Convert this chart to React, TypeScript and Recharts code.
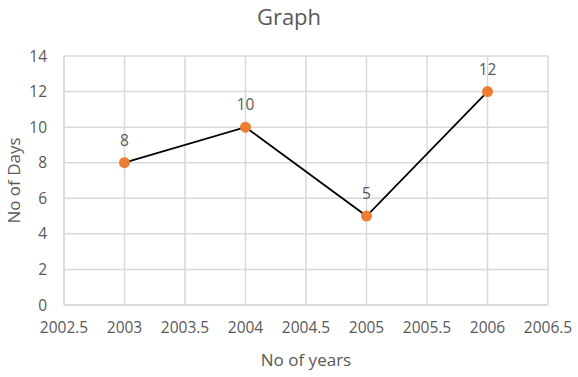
import React from "react";
import { LineChart, Line, XAxis, YAxis, CartesianGrid, LabelList, Label } from "recharts";

const years = [2003, 2004, 2005, 2006];
const days = [8, 10, 5, 12];
const xTicks = [2002.5, 2003, 2003.5, 2004, 2004.5, 2005, 2005.5, 2006, 2006.5];
const yTicks = [0, 2, 4, 6, 8, 10, 12, 14];

const data = years.map((y, i) => ({ year: y, days: days[i] }));

const FONT = "'Open Sans', sans-serif";
const TXT = "#595959";

export default function App() {
  return (
    <div style={{ position: "absolute", left: 0, top: 0, width: 578, height: 377, background: "#fff" }}>
      <div style={{ position: "absolute", left: 0, top: 1, width: 578, textAlign: "center", fontFamily: FONT, fontSize: 22, color: TXT }}>
        Graph
      </div>
      <LineChart width={578} height={377} data={data} margin={{ top: 56, right: 30, bottom: 0, left: 0 }}>
        <CartesianGrid stroke="#d9d9d9" strokeWidth={1.5} />
        <XAxis
          dataKey="year"
          type="number"
          domain={[2002.5, 2006.5]}
          ticks={xTicks}
          interval={0}
          tickLine={false}
          axisLine={{ stroke: "#d9d9d9", strokeWidth: 1.5 }}
          tickSize={0}
          tickMargin={17}
          height={72}
          tick={{ fill: TXT, fontSize: 15.5, fontFamily: FONT }}
        >
          <Label value="No of years" position="insideBottom" offset={11} fill={TXT} fontSize={17} fontFamily={FONT} />
        </XAxis>
        <YAxis
          type="number"
          domain={[0, 14]}
          ticks={yTicks}
          interval={0}
          tickLine={false}
          axisLine={{ stroke: "#d9d9d9", strokeWidth: 1.5 }}
          tickSize={0}
          tickMargin={17}
          width={64}
          tick={{ fill: TXT, fontSize: 15.5, fontFamily: FONT }}
        >
          <Label value="No of Days" angle={-90} position="insideLeft" offset={14} fill={TXT} fontSize={17} fontFamily={FONT} style={{ textAnchor: "middle" }} />
        </YAxis>
        <Line
          type="linear"
          dataKey="days"
          stroke="#000"
          strokeWidth={1.75}
          isAnimationActive={false}
          dot={{ r: 5.5, fill: "#ED7D31", stroke: "#ED7D31", strokeWidth: 0 }}
          activeDot={false}
        >
          <LabelList dataKey="days" position="top" offset={17} fill={TXT} fontSize={15.5} fontFamily={FONT} />
        </Line>
      </LineChart>
    </div>
  );
}
